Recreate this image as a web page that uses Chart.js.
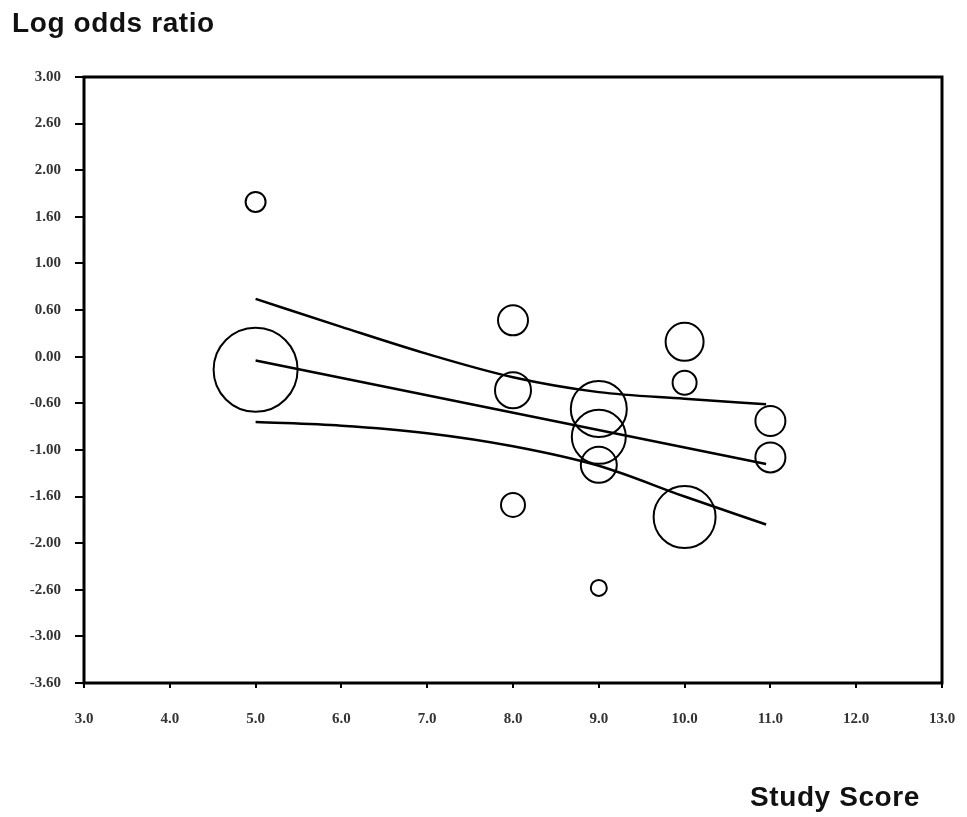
<!DOCTYPE html>
<html>
<head>
<meta charset="utf-8">
<script src="https://cdn.jsdelivr.net/npm/chart.js@4/dist/chart.umd.min.js"></script>
<style>
    html, body { margin: 0; padding: 0; background: #fff; }
    #wrap { position: relative; width: 967px; height: 817px; }
    #chart { position: absolute; left: 0; top: 0; }
    .axis-title {
        position: absolute;
        font-family: 'Liberation Sans', Arial, sans-serif;
        font-weight: bold;
        font-size: 28px;
        letter-spacing: 0.6px;
        color: #111;
        white-space: nowrap;
        line-height: 1;
    }
</style>
</head>
<body>
<div id="wrap">
    <canvas id="chart" width="967" height="817"></canvas>
    <div class="axis-title" style="left:12px; top:9px;">Log odds ratio</div>
    <div class="axis-title" style="left:750px; top:783px;">Study Score</div>
</div>
<script>
// study points: score, log odds ratio, relative weight (bubble radius)
const studyScore = [5, 5, 8, 8, 8, 9, 9, 9, 9, 10, 10, 10, 11, 11];
const logOdds = [1.66, -0.14, 0.39, -0.36, -1.59, -0.56, -0.86, -1.16, -2.48, 0.16, -0.28, -1.72, -0.69, -1.08];
const weight = [10, 42, 15, 18, 12, 28, 27, 18, 8, 19, 12, 31, 15, 15];

// regression line and confidence band
const fitScore = [5, 10.95];
const fitValue = [-0.04, -1.15];
const bandScore = [5, 6, 7, 8, 9, 10, 10.95];
const upperBand = [0.62, 0.32, 0.03, -0.22, -0.38, -0.45, -0.51];
const lowerBand = [-0.70, -0.74, -0.82, -0.96, -1.17, -1.50, -1.80];

// y tick labels as printed, top to bottom
const yTickLabels = ['3.00', '2.60', '2.00', '1.60', '1.00', '0.60', '0.00',
    '-0.60', '-1.00', '-1.60', '-2.00', '-2.60', '-3.00', '-3.60'];

const toPoints = (xs, ys) => xs.map((x, i) => ({ x: x, y: ys[i] }));

const frame = {
    id: 'frame',
    afterDraw(chart) {
        const a = chart.chartArea;
        const ctx = chart.ctx;
        ctx.save();
        ctx.strokeStyle = '#000';
        ctx.lineWidth = 3;
        ctx.strokeRect(a.left, a.top, a.right - a.left, a.bottom - a.top);
        ctx.restore();
    }
};

const lineStyle = {
    type: 'line',
    borderColor: '#000',
    borderWidth: 2.5,
    pointRadius: 0,
    fill: false
};

const tickFont = { family: "'Liberation Serif', 'Times New Roman', serif", size: 15, weight: 'bold' };

new Chart(document.getElementById('chart'), {
    type: 'bubble',
    data: {
        datasets: [
            {
                data: studyScore.map((x, i) => ({ x: x, y: logOdds[i], r: weight[i] })),
                backgroundColor: 'rgba(0,0,0,0)',
                borderColor: '#000',
                borderWidth: 2,
                hoverRadius: 0
            },
            Object.assign({ data: toPoints(fitScore, fitValue) }, lineStyle),
            Object.assign({ data: toPoints(bandScore, upperBand), cubicInterpolationMode: 'monotone' }, lineStyle),
            Object.assign({ data: toPoints(bandScore, lowerBand), cubicInterpolationMode: 'monotone' }, lineStyle)
        ]
    },
    options: {
        responsive: false,
        animation: false,
        events: [],
        layout: { autoPadding: false, padding: { top: 77, right: 25, left: 0, bottom: 0 } },
        plugins: {
            legend: { display: false },
            tooltip: { enabled: false }
        },
        scales: {
            x: {
                type: 'linear',
                min: 3,
                max: 13,
                afterFit: function(scale) {
                    scale.height = 134;
                    scale.paddingLeft = 0;
                    scale.paddingRight = 0;
                },
                grid: { drawOnChartArea: false, drawTicks: true, tickLength: 5, color: '#000', lineWidth: 2 },
                border: { display: false },
                ticks: {
                    stepSize: 1,
                    padding: 22,
                    color: '#333',
                    font: tickFont,
                    callback: function(value) { return value.toFixed(1); }
                }
            },
            y: {
                type: 'linear',
                min: -3.5,
                max: 3,
                afterFit: function(scale) { scale.width = 84; },
                grid: { drawOnChartArea: false, drawTicks: true, tickLength: 9, color: '#000', lineWidth: 2 },
                border: { display: false },
                ticks: {
                    stepSize: 0.5,
                    padding: 14,
                    color: '#333',
                    font: tickFont,
                    callback: function(value) {
                        const i = Math.round((3 - value) / 0.5);
                        return yTickLabels[i];
                    }
                }
            }
        }
    },
    plugins: [frame]
});
</script>
</body>
</html>
